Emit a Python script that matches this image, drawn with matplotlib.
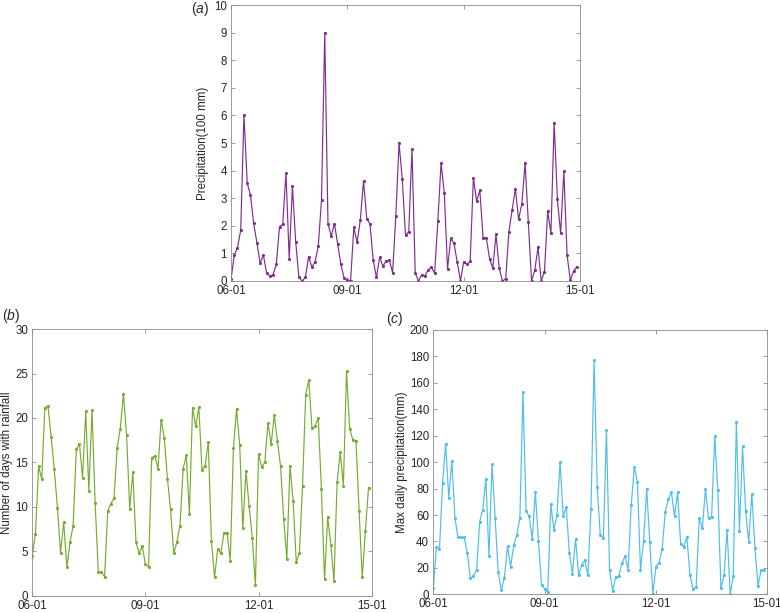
#!/usr/bin/env python3

import numpy as np
import matplotlib
matplotlib.use("Agg")
import matplotlib.pyplot as plt

# monthly values, 2006-01 .. 2014-12
precip = [0.06, 0.94, 1.2, 1.85, 6.03, 3.55, 3.12, 2.09, 1.39, 0.65, 0.94, 0.30,
          0.17, 0.23, 0.6, 1.96, 2.06, 3.92, 0.81, 3.43, 1.43, 0.13, 0.0, 0.13,
          0.88, 0.5, 0.69, 1.26, 2.94, 9.0, 2.08, 1.62, 2.08, 1.34, 0.6, 0.11,
          0.05, 0.0, 1.94, 1.4, 2.2, 3.63, 2.26, 2.07, 0.75, 0.13, 0.86, 0.54,
          0.73, 0.76, 0.29, 2.36, 5.0, 3.68, 1.65, 1.79, 4.77, 0.30, 0.0, 0.22,
          0.19, 0.4, 0.5, 0.28, 2.16, 4.28, 3.19, 0.45, 1.54, 1.37, 0.68, 0.0,
          0.69, 0.6, 0.71, 3.74, 2.9, 3.28, 1.57, 1.57, 0.81, 0.46, 1.69, 0.46,
          0.0, 0.08, 1.79, 2.58, 3.35, 2.23, 2.8, 4.27, 2.13, 0.0, 0.39, 1.22,
          0.0, 0.34, 2.53, 1.73, 5.74, 2.96, 1.73, 3.98, 0.94, 0.02, 0.36, 0.51]

rain_days = [4.5, 6.96, 14.55, 13.13, 21.17, 21.32, 17.85, 14.22, 9.88, 4.79, 8.3, 3.22,
             6.02, 7.86, 16.46, 17.1, 13.24, 20.73, 11.82, 20.88, 10.44, 2.69, 2.69, 2.13,
             9.5, 10.36, 10.96, 16.65, 18.78, 22.71, 18.07, 9.8, 13.88, 5.99, 4.75, 5.61,
             3.52, 3.22, 15.53, 15.75, 14.29, 19.79, 17.77, 13.17, 9.73, 4.75, 6.02, 7.89,
             14.29, 15.79, 9.2, 21.14, 19.04, 21.2, 14.18, 14.59, 17.28, 6.17, 2.06, 5.27,
             4.75, 7.07, 7.07, 3.93, 16.57, 21.02, 16.95, 7.59, 14.03, 10.1, 6.51, 1.2,
             15.9, 14.48, 15.0, 19.42, 17.02, 20.31, 17.4, 14.59, 8.6, 4.12, 14.63, 10.66,
             3.82, 4.75, 12.38, 22.63, 24.24, 18.82, 19.12, 20.01, 12.01, 1.83, 8.83, 5.76,
             1.68, 12.79, 16.12, 12.38, 25.25, 18.78, 17.55, 17.43, 9.58, 2.06, 7.3, 12.16]

max_daily = [4.5, 36, 34.5, 84, 114, 73, 101, 57.5, 43, 43, 43, 31,
             12, 14, 18.5, 55, 64, 87.5, 29, 98.5, 58, 16.5, 3.3, 12.7,
             36.5, 21, 37, 45, 57.5, 153, 63, 59, 41.5, 77.5, 40.5, 7,
             4.3, 1.8, 68, 49, 60, 100, 59, 66, 31, 15.5, 42, 14.4,
             22.3, 25.6, 14.4, 64.8, 177, 81, 44.8, 42.8, 124.3, 18.5, 2.8, 13.2,
             13.9, 23.5, 28.9, 18.7, 67.3, 96.2, 85.3, 18.5, 40.3, 80, 39.7, 0.3,
             20.8, 24, 34, 62.3, 72.2, 77.2, 59, 77.2, 38, 36, 43.3, 14.9,
             4, 5.6, 57.5, 50.1, 79.7, 57.7, 58.5, 119.7, 79, 4.6, 14.4, 48.9,
             0, 13.7, 130, 47.8, 111.9, 62.8, 39.5, 76.2, 35, 6.6, 18.2, 18.2]

xtick_pos = [0, 36, 72, 108]
xtick_labels = ["06-01", "09-01", "12-01", "15-01"]

plt.rcParams["font.family"] = ["Liberation Sans", "DejaVu Sans"]
plt.rcParams["mathtext.fontset"] = "custom"
plt.rcParams["mathtext.rm"] = "Liberation Sans"
plt.rcParams["mathtext.it"] = "Liberation Sans:italic"

TEXT = "#262626"
EDGE = "#8c8c8c"
FS = 8.3


def draw_panel(ax, values, color, ylim, yticks, ylabel, label_x):
    x = np.arange(len(values))
    ax.plot(x, values, color=color, lw=0.85, marker=".", ms=2.5)
    ax.set_xlim(0, 108)
    ax.set_ylim(*ylim)
    ax.set_yticks(yticks)
    ax.set_xticks(xtick_pos)
    ax.set_xticklabels(xtick_labels)
    ax.tick_params(direction="in", length=3, width=0.6, color=EDGE,
                   labelcolor=TEXT, labelsize=FS, top=True, right=True, pad=3)
    for s in ax.spines.values():
        s.set_color(EDGE)
        s.set_linewidth(0.6)
    ax.set_ylabel(ylabel, fontsize=FS, color=TEXT)
    ax.yaxis.set_label_coords(label_x, 0.5)


def main():
    fig = plt.figure(figsize=(7.8, 6.13), dpi=100)

    ax_a = fig.add_axes([0.2962, 0.5416, 0.4474, 0.4502])
    ax_b = fig.add_axes([0.0414, 0.0282, 0.4351, 0.4350])
    ax_c = fig.add_axes([0.5555, 0.0305, 0.4282, 0.4312])

    draw_panel(ax_a, precip, "#7E2F8E", (0, 10), range(0, 11),
               "Precipitation(100 mm)", -0.063)
    draw_panel(ax_b, rain_days, "#77AC30", (0, 30), range(0, 31, 5),
               "Number of days with rainfall", -0.058)
    draw_panel(ax_c, max_daily, "#4DBEEE", (0, 200), range(0, 201, 20),
               "Max daily precipitation(mm)", -0.077)

    # panel letters
    fig.text(200 / 780, 1 - 8.5 / 613, r"($\mathit{a}$)", fontsize=10,
             color=TEXT, ha="center", va="center")
    fig.text(11 / 780, 1 - 316.5 / 613, r"($\mathit{b}$)", fontsize=10,
             color=TEXT, ha="center", va="center")
    fig.text(395 / 780, 1 - 319 / 613, r"($\mathit{c}$)", fontsize=10,
             color=TEXT, ha="center", va="center")

    fig.savefig("out.png", dpi=100)


main()
